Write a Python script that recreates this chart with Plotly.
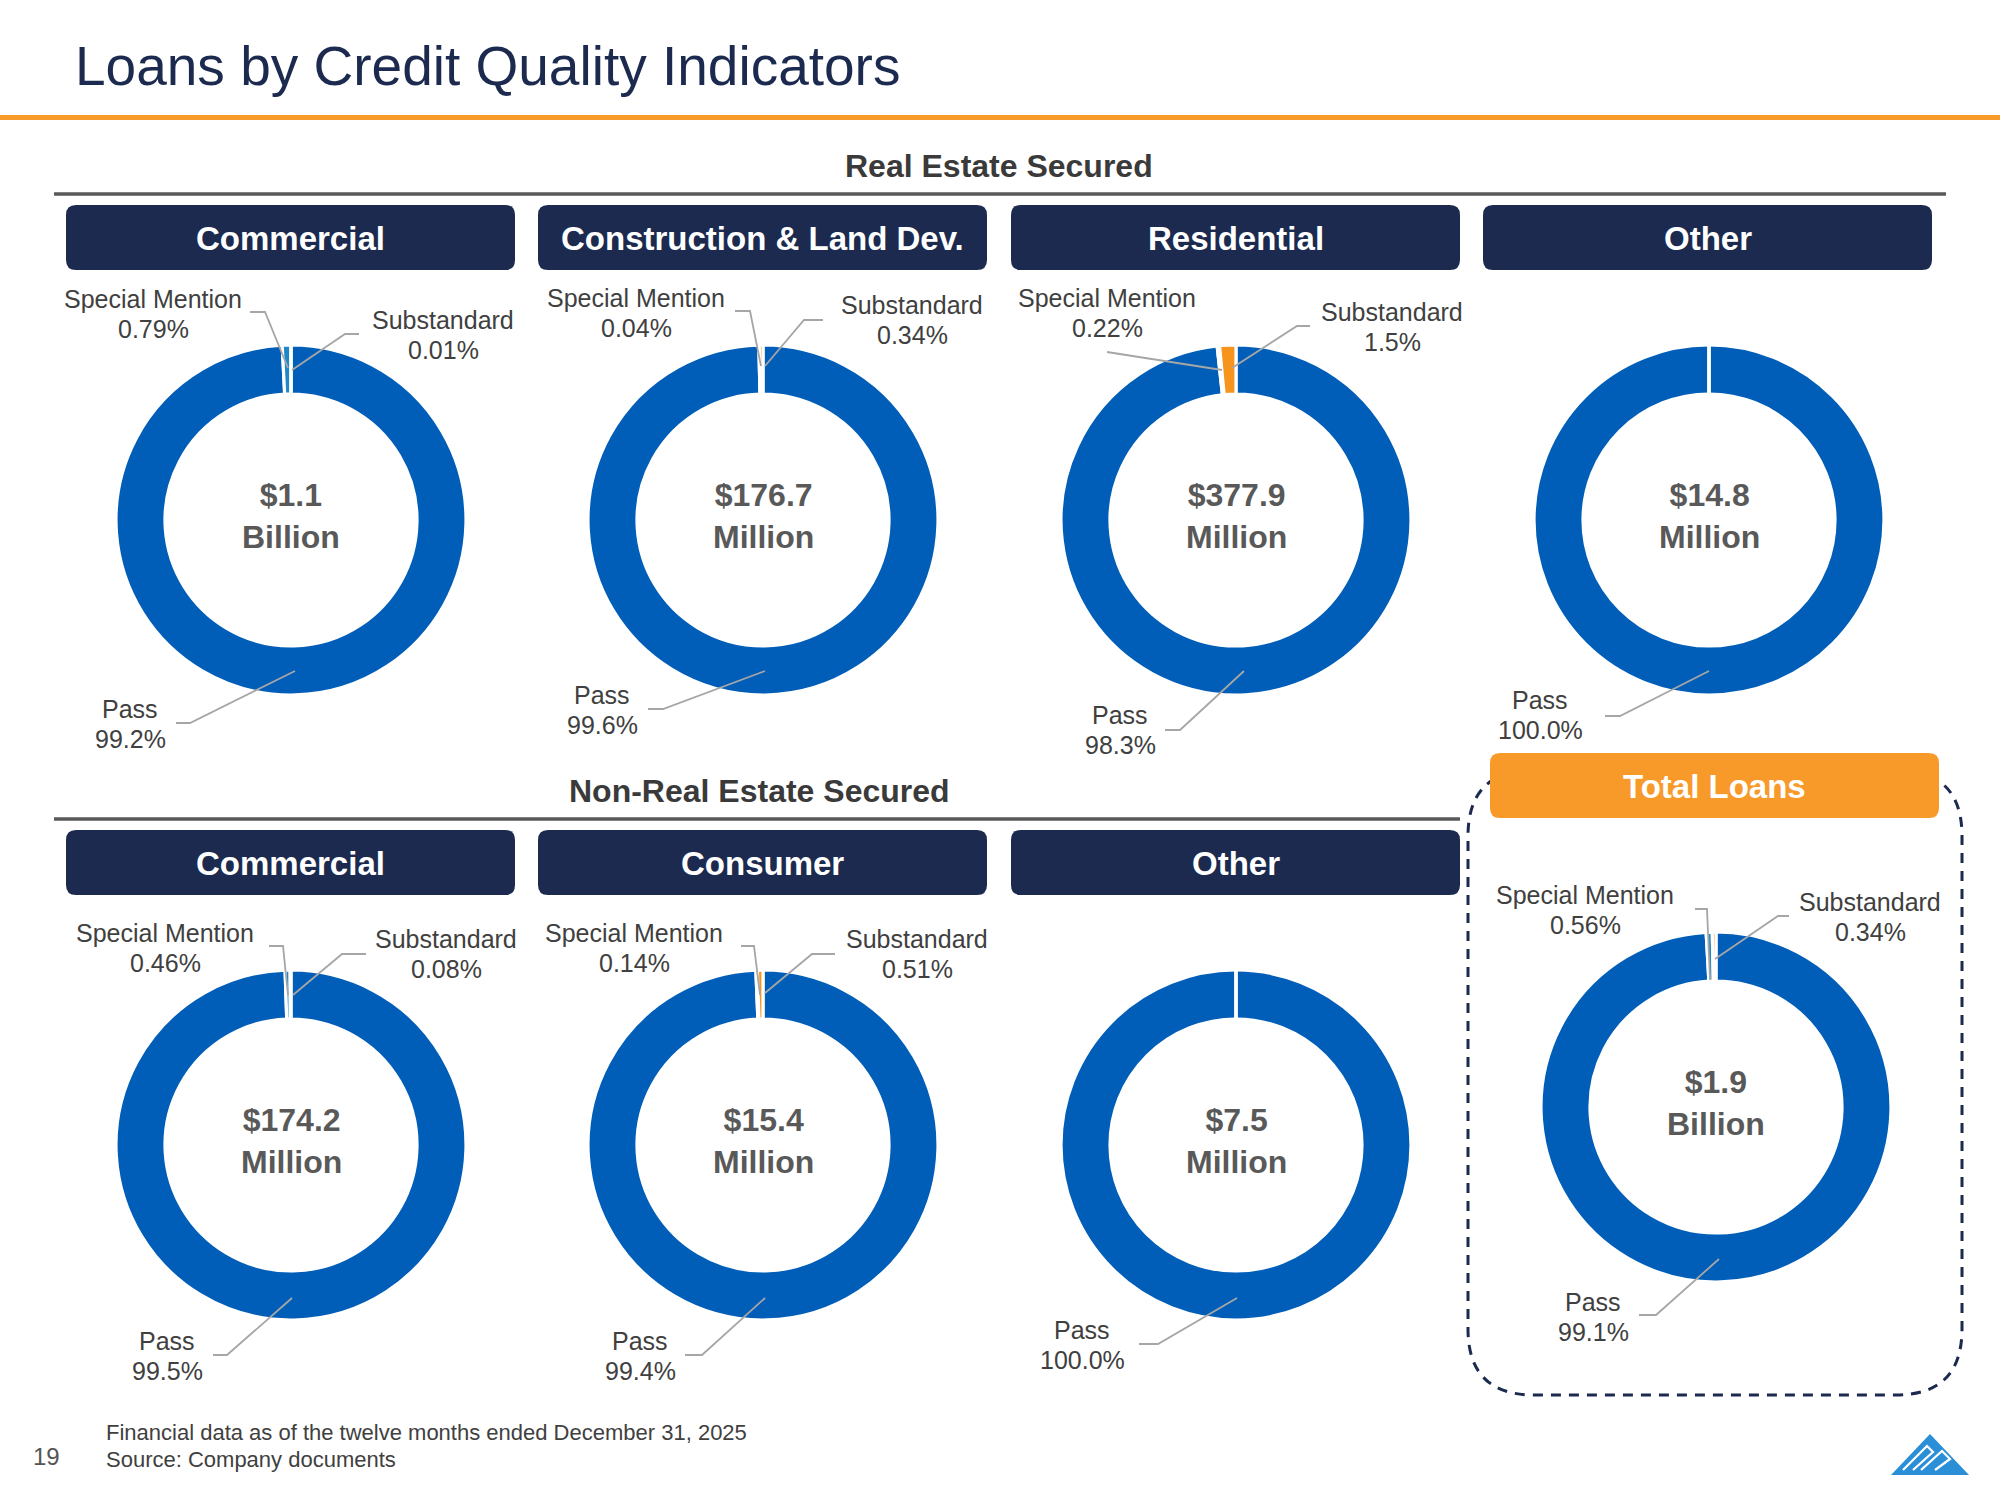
import plotly.graph_objects as go

W, H = 2000, 1500

# ---------------- data ----------------
segments = ["Pass", "Special Mention", "Substandard"]
panel_titles = ["Commercial", "Construction & Land Dev.", "Residential", "Other",
                "Commercial", "Consumer", "Other", "Total Loans"]
pass_pct = [99.2, 99.6, 98.3, 100.0, 99.5, 99.4, 100.0, 99.1]
special_mention_pct = [0.79, 0.04, 0.22, 0.0, 0.46, 0.14, 0.0, 0.56]
substandard_pct = [0.01, 0.34, 1.5, 0.0, 0.08, 0.51, 0.0, 0.34]
balance_amount = ["$1.1", "$176.7", "$377.9", "$14.8", "$174.2", "$15.4", "$7.5", "$1.9"]
balance_unit = ["Billion", "Million", "Million", "Million", "Million", "Million", "Million", "Billion"]
group_titles = ["Real Estate Secured", "Non-Real Estate Secured"]
footnotes = ["Financial data as of the twelve months ended December 31, 2025",
             "Source: Company documents"]
page_number = "19"
slide_title = "Loans by Credit Quality Indicators"

# ---------------- styling / layout ----------------
NAVY = "#1B2A4E"
ORANGE = "#F89A2A"
PASS_C = "#005EB8"
SM_C = "#1E88C9"
SUB_C = "#F7941D"
LABEL_C = "#404040"
LEAD_C = "#A6A6A6"
FONT = "Liberation Sans, Arial, sans-serif"

R_OUT = 175
HOLE = 0.72
centers = [(291, 520), (763, 520), (1236, 520), (1709, 520),
           (291, 1145), (763, 1145), (1236, 1145), (1716, 1107)]
header_boxes = [(66, 205, 515, 270), (538, 205, 987, 270), (1011, 205, 1460, 270), (1483, 205, 1932, 270),
                (66, 830, 515, 895), (538, 830, 987, 895), (1011, 830, 1460, 895), (1490, 753, 1939, 818)]

# label positions (center of two-line label) and leader polylines, per panel
label_layout = [
    {"sm": ((153, 314), [(250, 312), (265, 312), (288, 368)]),
     "sub": ((443, 335), [(359, 334), (345, 334), (292, 370)]),
     "pass": ((130, 724), [(176, 723), (190, 723), (295, 671)])},
    {"sm": ((636, 313), [(735, 311), (750, 311), (761, 366)]),
     "sub": ((912, 320), [(823, 320), (804, 320), (765, 366)]),
     "pass": ((602, 710), [(648, 709), (663, 709), (765, 671)])},
    {"sm": ((1107, 313), [(1107, 352), (1222, 370)]),
     "sub": ((1392, 327), [(1310, 326), (1297, 326), (1232, 368)]),
     "pass": ((1120, 730), [(1165, 730), (1180, 730), (1244, 671)])},
    {"pass": ((1540, 715), [(1605, 716), (1620, 716), (1709, 671)])},
    {"sm": ((165, 948), [(269, 946), (283, 946), (288, 995)]),
     "sub": ((446, 954), [(366, 954), (342, 954), (293, 995)]),
     "pass": ((167, 1356), [(213, 1355), (227, 1355), (292, 1298)])},
    {"sm": ((634, 948), [(741, 946), (754, 946), (760, 995)]),
     "sub": ((917, 954), [(835, 954), (812, 954), (765, 993)]),
     "pass": ((640, 1356), [(685, 1355), (702, 1355), (765, 1298)])},
    {"pass": ((1082, 1345), [(1139, 1344), (1158, 1344), (1237, 1298)])},
    {"sm": ((1585, 910), [(1695, 909), (1707, 909), (1710, 980)]),
     "sub": ((1870, 917), [(1789, 916), (1778, 916), (1715, 959)]),
     "pass": ((1593, 1317), [(1639, 1315), (1656, 1315), (1719, 1259)])},
]


def fmt(v, is_pass=False):
    if is_pass or v >= 1:
        return f"{v:.1f}%"
    return f"{v:.2f}%"


def rrect(x0, y0, x1, y1, r):
    return (f"M{x0+r},{y0} L{x1-r},{y0} Q{x1},{y0} {x1},{y0+r} L{x1},{y1-r} "
            f"Q{x1},{y1} {x1-r},{y1} L{x0+r},{y1} Q{x0},{y1} {x0},{y1-r} "
            f"L{x0},{y0+r} Q{x0},{y0} {x0+r},{y0} Z")


fig = go.Figure()
shapes = []
annotations = []

for i in range(len(panel_titles)):
    cx, cy = centers[i]
    vals = [pass_pct[i], special_mention_pct[i], substandard_pct[i]]
    fig.add_trace(go.Pie(
        labels=segments, values=vals, hole=HOLE, sort=False, direction="clockwise",
        rotation=0, textinfo="none", hoverinfo="label+value",
        marker=dict(colors=[PASS_C, SM_C, SUB_C], line=dict(color="white", width=3.2)),
        domain=dict(x=[(cx - R_OUT) / W, (cx + R_OUT) / W],
                    y=[1 - (cy + R_OUT) / H, 1 - (cy - R_OUT) / H]),
        showlegend=False,
    ))
    # center text
    annotations.append(dict(x=cx, y=cy - 4, text=f"<b>{balance_amount[i]}<br>{balance_unit[i]}</b>",
                            font=dict(size=32, color="#595959", family=FONT)))
    # labels
    lay = label_layout[i]
    entries = [("sm", "Special Mention", special_mention_pct[i], False),
               ("sub", "Substandard", substandard_pct[i], False),
               ("pass", "Pass", pass_pct[i], True)]
    for key, name, v, isp in entries:
        if key not in lay:
            continue
        (lx, ly), pts = lay[key]
        annotations.append(dict(x=lx, y=ly - 15, text=name,
                                font=dict(size=25, color=LABEL_C, family=FONT)))
        annotations.append(dict(x=lx, y=ly + 15, text=fmt(v, isp),
                                font=dict(size=25, color=LABEL_C, family=FONT)))
        path = "M" + " L".join(f"{x},{y}" for x, y in pts)
        shapes.append(dict(type="path", path=path, line=dict(color=LEAD_C, width=1.8),
                           layer="above"))
    if pass_pct[i] >= 100:
        # slice seam at 12 o'clock
        shapes.append(dict(type="line", x0=cx, x1=cx, y0=cy - R_OUT - 1, y1=cy - R_OUT * HOLE + 1,
                           line=dict(color="white", width=3), layer="above"))

# dashed frame for Total Loans (drawn before the orange header)
shapes.append(dict(type="path", path=rrect(1468, 770, 1962, 1395, 66),
                   line=dict(color=NAVY, width=3, dash="10px,8px"), layer="below"))

# header boxes
for i, (x0, y0, x1, y1) in enumerate(header_boxes):
    color = ORANGE if i == 7 else NAVY
    shapes.append(dict(type="path", path=rrect(x0, y0, x1, y1, 10), fillcolor=color,
                       line=dict(width=0), layer="below"))
    annotations.append(dict(x=(x0 + x1) / 2, y=(y0 + y1) / 2 + 1, text=f"<b>{panel_titles[i]}</b>",
                            font=dict(size=33, color="white", family=FONT)))

# orange rule under title
shapes.append(dict(type="rect", x0=0, x1=W, y0=115, y1=120, fillcolor=ORANGE,
                   line=dict(width=0), layer="below"))
# group rules
shapes.append(dict(type="line", x0=54, x1=1946, y0=194, y1=194, line=dict(color="#595959", width=3.5)))
shapes.append(dict(type="line", x0=54, x1=1460, y0=819, y1=819, line=dict(color="#595959", width=3.5)))

annotations.append(dict(x=999, y=166, text=f"<b>{group_titles[0]}</b>",
                        font=dict(size=32, color="#3A3A3A", family=FONT)))
annotations.append(dict(x=759, y=791, text=f"<b>{group_titles[1]}</b>",
                        font=dict(size=32, color="#3A3A3A", family=FONT)))

# title
annotations.append(dict(x=73, y=66, xanchor="left", text=slide_title,
                        font=dict(size=55, color=NAVY, family=FONT)))

# footer
annotations.append(dict(x=104, y=1432, xanchor="left", text=footnotes[0],
                        font=dict(size=22, color=LABEL_C, family=FONT)))
annotations.append(dict(x=104, y=1459, xanchor="left", text=footnotes[1],
                        font=dict(size=22, color=LABEL_C, family=FONT)))
annotations.append(dict(x=46, y=1456, text=page_number,
                        font=dict(size=24, color="#555555", family=FONT)))

# logo (bottom right)
LOGO = "#2B8FD8"
shapes.append(dict(type="path", path="M1930,1434 L1969,1475 L1891,1475 Z",
                   fillcolor=LOGO, line=dict(width=0), layer="above"))
shapes.append(dict(type="path", path="M1903,1470 L1927,1446 L1933,1452 L1913,1470",
                   line=dict(color="white", width=2.2), layer="above"))
shapes.append(dict(type="path", path="M1921,1470 L1942,1451 L1950,1459 L1935,1470",
                   line=dict(color="white", width=2.2), layer="above"))

for a in annotations:
    a.setdefault("xref", "x")
    a.setdefault("yref", "y")
    a.setdefault("showarrow", False)
    a.setdefault("xanchor", "center")
    a.setdefault("yanchor", "middle")
for s in shapes:
    s.setdefault("xref", "x")
    s.setdefault("yref", "y")

fig.update_layout(
    width=W, height=H, margin=dict(l=0, r=0, t=0, b=0),
    paper_bgcolor="white", plot_bgcolor="rgba(0,0,0,0)",
    xaxis=dict(range=[0, W], visible=False, fixedrange=True),
    yaxis=dict(range=[H, 0], visible=False, fixedrange=True),
    shapes=shapes, annotations=annotations,
    font=dict(family=FONT),
)

fig.write_html("out.html")
